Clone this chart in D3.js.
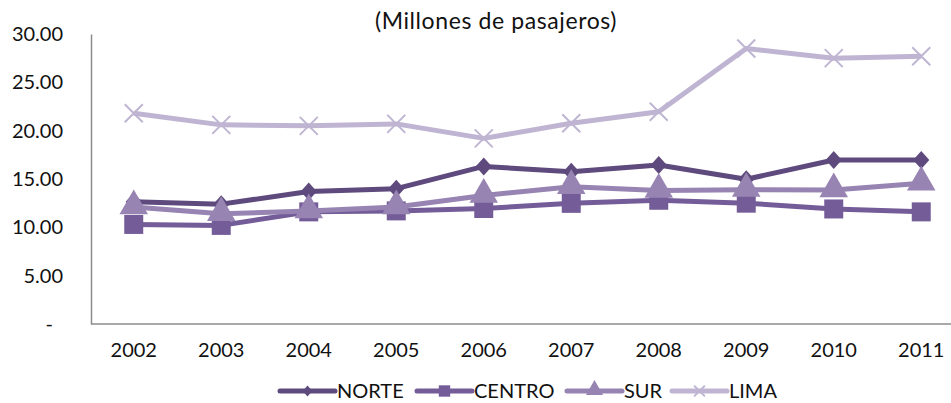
<!DOCTYPE html>
<html>
<head>
<meta charset="utf-8">
<script src="https://cdn.jsdelivr.net/npm/d3@7"></script>
<style>
  body { margin: 0; background: #fff; }
  svg text { font-family: Lato, "Open Sans", sans-serif; fill: #111; }
</style>
</head>
<body>
<div id="chart"></div>
<script>
// data
const years = ["2002","2003","2004","2005","2006","2007","2008","2009","2010","2011"];
const norte  = [12.65, 12.4, 13.7, 14.0, 16.3, 15.75, 16.45, 14.97, 16.97, 16.97];
const centro = [10.3, 10.2, 11.6, 11.7, 11.95, 12.48, 12.8, 12.5, 11.9, 11.6];
const sur    = [12.1, 11.4, 11.7, 12.1, 13.3, 14.2, 13.8, 13.9, 13.86, 14.55];
const lima   = [21.8, 20.6, 20.5, 20.7, 19.2, 20.76, 21.96, 28.5, 27.5, 27.7];
const yTicks = [0, 5, 10, 15, 20, 25, 30];
const title = "(Millones de pasajeros)";

const series = [
  {name: "NORTE",  values: norte,  color: "#5e4a7d", marker: "diamond"},
  {name: "CENTRO", values: centro, color: "#745c99", marker: "square"},
  {name: "SUR",    values: sur,    color: "#9784b2", marker: "triangle"},
  {name: "LIMA",   values: lima,   color: "#bfb5d2", marker: "cross"}
];

const W = 951, H = 403;
const svg = d3.select("#chart").append("svg").attr("width", W).attr("height", H);

const x = d3.scaleBand().domain(years).range([90, 965]);
const y = d3.scaleLinear().domain([0, 30]).range([324, 34]);

// title
svg.append("text").attr("x", 496).attr("y", 29).attr("text-anchor", "middle")
  .attr("font-size", "23px").attr("letter-spacing", "0.6px").text(title);

// y axis
const yAxis = svg.append("g").attr("transform", "translate(91,0)")
  .call(d3.axisLeft(y).tickValues(yTicks).tickSize(0).tickPadding(28)
    .tickFormat(d => d === 0 ? "-" : d3.format(".2f")(d)));
yAxis.select(".domain").attr("stroke", "#8c8c8c").attr("stroke-width", 1.5);
yAxis.selectAll("text").attr("font-size", "20px").attr("fill", "#111")
  .attr("dx", d => d === 0 ? -10 : 0);

// x axis
const xAxis = svg.append("g").attr("transform", "translate(0,324)")
  .call(d3.axisBottom(x).tickSize(0).tickPadding(19));
xAxis.select(".domain").attr("stroke", "#8c8c8c").attr("stroke-width", 1.5)
  .attr("d", "M91,0H951");
xAxis.selectAll("text").attr("font-size", "20px").attr("fill", "#111");

const cx = d => x(d) + x.bandwidth() / 2;
const line = d3.line().x((d, i) => cx(years[i])).y(d => y(d));

function drawMarker(g, type, color, size) {
  const s = size / 2;
  if (type === "cross") {
    g.append("path").attr("d", `M${-s},${-s}L${s},${s}M${-s},${s}L${s},${-s}`)
      .attr("stroke", color).attr("stroke-width", 2).attr("fill", "none");
  } else if (type === "diamond") {
    const w = s * 0.9;
    g.append("path").attr("d", `M0,${-s}L${w},0L0,${s}L${-w},0Z`).attr("fill", color);
  } else {
    const sym = type === "square" ? d3.symbolSquare : d3.symbolTriangle;
    const area = type === "square" ? size * size : size * size * 0.8;
    g.append("path").attr("d", d3.symbol().type(sym).size(area)())
      .attr("transform", type === "triangle" ? "translate(0,-1)" : null)
      .attr("fill", color);
  }
}

const sizes = {diamond: 18, square: 19, triangle: 21, cross: 18};

// series order = drawing order, later ones on top
series.forEach(s => {
  const g = svg.append("g");
  g.append("path").datum(s.values).attr("d", line)
    .attr("fill", "none").attr("stroke", s.color).attr("stroke-width", 5)
    .attr("stroke-linejoin", "round");
  s.values.forEach((v, i) => {
    const m = g.append("g").attr("transform", `translate(${cx(years[i])},${y(v)})`);
    drawMarker(m, s.marker, s.color, sizes[s.marker]);
  });
});

// legend
const legendX = [280, 417, 567, 672];
series.forEach((s, i) => {
  const g = svg.append("g").attr("transform", `translate(${legendX[i]},391)`);
  g.append("line").attr("x1", 0).attr("x2", 55).attr("stroke", s.color)
    .attr("stroke-width", 5).attr("stroke-linecap", "round");
  const m = g.append("g").attr("transform", "translate(27.5,0)");
  drawMarker(m, s.marker, s.color, sizes[s.marker] * 0.6);
  g.append("text").attr("x", 57).attr("y", 7).attr("font-size", "20px").text(s.name);
});
</script>
</body>
</html>
